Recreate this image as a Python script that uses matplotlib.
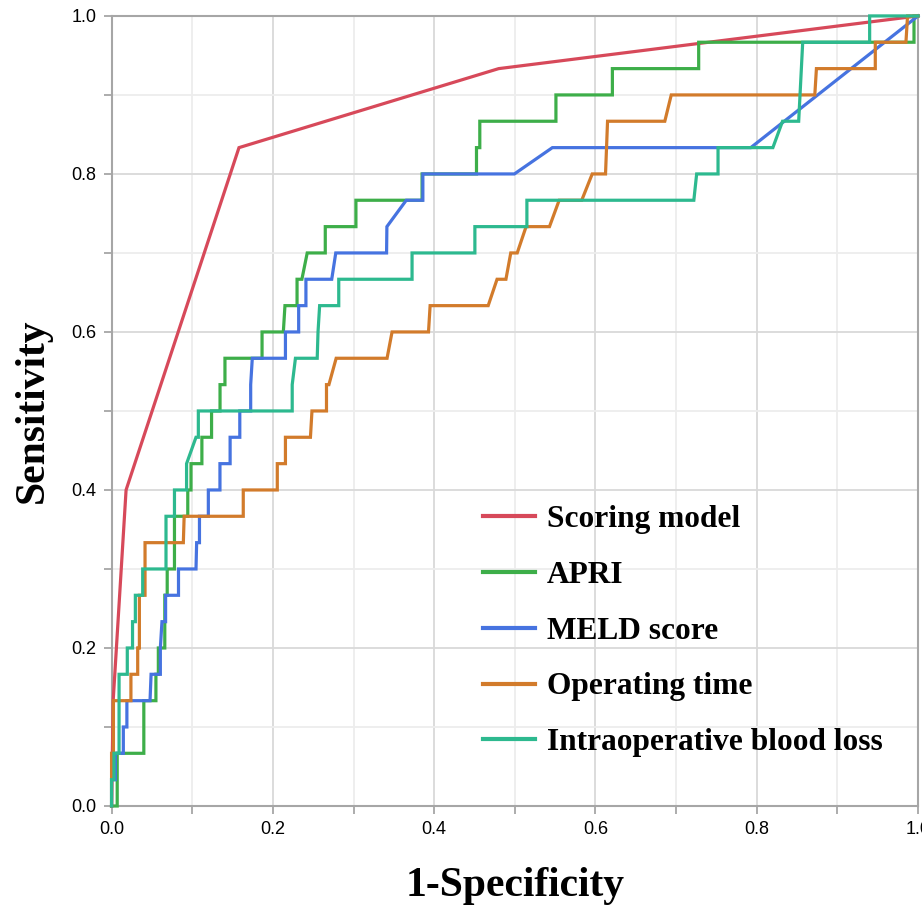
import matplotlib
matplotlib.use("Agg")
import matplotlib.pyplot as plt
from matplotlib.ticker import MultipleLocator, FixedLocator

# ---- data ----
series_names = ["Scoring model", "APRI", "MELD score", "Operating time", "Intraoperative blood loss"]
series_colors = ["#d7495a", "#3dae49", "#4673e0", "#d27b2b", "#2db98f"]

scoring_fpr = [0.0, 0.002, 0.018, 0.158, 0.48, 1.0]
scoring_tpr = [0.0, 0.1333, 0.4, 0.8333, 0.9333, 1.0]

apri_fpr = [0.0, 0.007, 0.007, 0.040, 0.040, 0.055, 0.055, 0.058, 0.058, 0.066, 0.066, 0.069, 0.069,
            0.078, 0.078, 0.0945, 0.0945, 0.0985, 0.0985, 0.112, 0.112, 0.124, 0.124, 0.1345, 0.1345,
            0.1406, 0.1406, 0.1866, 0.1866, 0.213, 0.215, 0.230, 0.230, 0.236, 0.2426, 0.265, 0.265,
            0.303, 0.303, 0.385, 0.385, 0.4525, 0.4525, 0.4566, 0.4566, 0.551, 0.551, 0.621, 0.621,
            0.728, 0.728, 0.995, 0.995, 1.0]
apri_tpr = [0.0, 0.0, 0.0667, 0.0667, 0.1333, 0.1333, 0.1667, 0.1667, 0.2, 0.2, 0.2667, 0.2667, 0.3,
            0.3, 0.3667, 0.3667, 0.4, 0.4, 0.4333, 0.4333, 0.4667, 0.4667, 0.5, 0.5, 0.5333,
            0.5333, 0.5667, 0.5667, 0.6, 0.6, 0.6333, 0.6333, 0.6667, 0.6667, 0.7, 0.7, 0.7333,
            0.7333, 0.7667, 0.7667, 0.8, 0.8, 0.8333, 0.8333, 0.8667, 0.8667, 0.9, 0.9, 0.9333,
            0.9333, 0.9667, 0.9667, 1.0, 1.0]

meld_fpr = [0.0, 0.0, 0.0047, 0.0047, 0.0146, 0.0146, 0.019, 0.019, 0.0477, 0.049, 0.0605, 0.0605, 0.0625,
            0.067, 0.067, 0.083, 0.083, 0.1047, 0.1055, 0.109, 0.109, 0.120, 0.120, 0.1344, 0.1344,
            0.147, 0.147, 0.159, 0.159, 0.1725, 0.1725, 0.1745, 0.2156, 0.2156, 0.232, 0.232, 0.241,
            0.241, 0.273, 0.278, 0.341, 0.3414, 0.3654, 0.386, 0.386, 0.4995, 0.5466, 0.7926, 1.0]
meld_tpr = [0.0, 0.0333, 0.0333, 0.0667, 0.0667, 0.1, 0.1, 0.1333, 0.1333, 0.1667, 0.1667, 0.2, 0.2333,
            0.2333, 0.2667, 0.2667, 0.3, 0.3, 0.3333, 0.3333, 0.3667, 0.3667, 0.4, 0.4, 0.4333,
            0.4333, 0.4667, 0.4667, 0.5, 0.5, 0.5333, 0.5667, 0.5667, 0.6, 0.6, 0.6333, 0.6333,
            0.6667, 0.6667, 0.7, 0.7, 0.7333, 0.7667, 0.7667, 0.8, 0.8, 0.8333, 0.8333, 1.0]

optime_fpr = [0.0, 0.0, 0.0023, 0.0023, 0.024, 0.024, 0.0324, 0.0324, 0.0345, 0.0345, 0.0415, 0.0415,
              0.089, 0.090, 0.1633, 0.1633, 0.2055, 0.2055, 0.2156, 0.2156, 0.2466, 0.2485, 0.2665,
              0.2665, 0.2695, 0.2785, 0.3416, 0.3478, 0.393, 0.395, 0.467, 0.478, 0.489, 0.495, 0.503,
              0.514, 0.543, 0.555, 0.583, 0.596, 0.6125, 0.615, 0.686, 0.694, 0.872, 0.874, 0.947,
              0.947, 0.985, 0.987, 1.0]
optime_tpr = [0.0, 0.0667, 0.0667, 0.1333, 0.1333, 0.1667, 0.1667, 0.2, 0.2, 0.2667, 0.2667, 0.3333,
              0.3333, 0.3667, 0.3667, 0.4, 0.4, 0.4333, 0.4333, 0.4667, 0.4667, 0.5, 0.5,
              0.5333, 0.5333, 0.5667, 0.5667, 0.6, 0.6, 0.6333, 0.6333, 0.6667, 0.6667, 0.7, 0.7,
              0.7333, 0.7333, 0.7667, 0.7667, 0.8, 0.8, 0.8667, 0.8667, 0.9, 0.9, 0.9333, 0.9333,
              0.9667, 0.9667, 1.0, 1.0]

blood_fpr = [0.0, 0.0, 0.003, 0.003, 0.0093, 0.0093, 0.0195, 0.0195, 0.026, 0.026, 0.0295, 0.0295,
             0.0386, 0.0386, 0.0675, 0.0675, 0.078, 0.078, 0.093, 0.093, 0.1047, 0.1076, 0.1076,
             0.224, 0.224, 0.228, 0.255, 0.256, 0.258, 0.2817, 0.2817, 0.3726, 0.3726, 0.4505, 0.4505,
             0.515, 0.515, 0.722, 0.7255, 0.752, 0.752, 0.82, 0.832, 0.852, 0.857, 0.940, 0.940, 1.0]
blood_tpr = [0.0, 0.0333, 0.0333, 0.0667, 0.0667, 0.1667, 0.1667, 0.2, 0.2, 0.2333, 0.2333, 0.2667,
             0.2667, 0.3, 0.3, 0.3667, 0.3667, 0.4, 0.4, 0.4333, 0.4667, 0.4667, 0.5,
             0.5, 0.5333, 0.5667, 0.5667, 0.6, 0.6333, 0.6333, 0.6667, 0.6667, 0.7, 0.7, 0.7333,
             0.7333, 0.7667, 0.7667, 0.8, 0.8, 0.8333, 0.8333, 0.8667, 0.8667, 0.9667, 0.9667, 1.0, 1.0]

curves = [(scoring_fpr, scoring_tpr), (apri_fpr, apri_tpr), (meld_fpr, meld_tpr),
          (optime_fpr, optime_tpr), (blood_fpr, blood_tpr)]

x_label = "1-Specificity"
y_label = "Sensitivity"
tick_values = [0.0, 0.2, 0.4, 0.6, 0.8, 1.0]
tick_labels = ["0.0", "0.2", "0.4", "0.6", "0.8", "1.0"]

# ---- figure ----
fig = plt.figure(figsize=(9.22, 9.05), dpi=100)
ax = fig.add_axes([0.121, 0.1094, 0.8747, 0.873])

ax.set_xlim(0, 1)
ax.set_ylim(0, 1)

ax.xaxis.set_major_locator(FixedLocator(tick_values))
ax.yaxis.set_major_locator(FixedLocator(tick_values))
ax.xaxis.set_minor_locator(MultipleLocator(0.1))
ax.yaxis.set_minor_locator(MultipleLocator(0.1))
ax.set_xticklabels(tick_labels, family="Liberation Sans", fontsize=13)
ax.set_yticklabels(tick_labels, family="Liberation Sans", fontsize=13)

ax.grid(which="major", color="#d9d9d9", linewidth=1.3)
ax.grid(which="minor", color="#ededed", linewidth=1.3)
ax.set_axisbelow(True)

for s in ax.spines.values():
    s.set_color("#a6a6a6")
    s.set_linewidth(1.5)

ax.tick_params(which="both", direction="out", color="#a6a6a6", width=1.3, length=6)
ax.tick_params(which="major", pad=5, labelcolor="black")

for (fx, ty), name, col in zip(curves, series_names, series_colors):
    ax.plot(fx, ty, color=col, linewidth=2.3, label=name, solid_joinstyle="miter", clip_on=False, zorder=3)

ax.set_xlabel(x_label, family="Liberation Serif", fontweight="bold", fontsize=30, labelpad=21)
ax.set_ylabel(y_label, family="Liberation Serif", fontweight="bold", fontsize=30, labelpad=14)

leg = ax.legend(loc="upper left", bbox_to_anchor=(0.4603, 0.381), frameon=False,
                prop={"family": "Liberation Serif", "weight": "bold", "size": 22.6},
                handlelength=1.66, handletextpad=0.38, labelspacing=0.855, borderpad=0, borderaxespad=0)
for ln in leg.get_lines():
    ln.set_linewidth(3)

fig.savefig("out.png", dpi=100)
